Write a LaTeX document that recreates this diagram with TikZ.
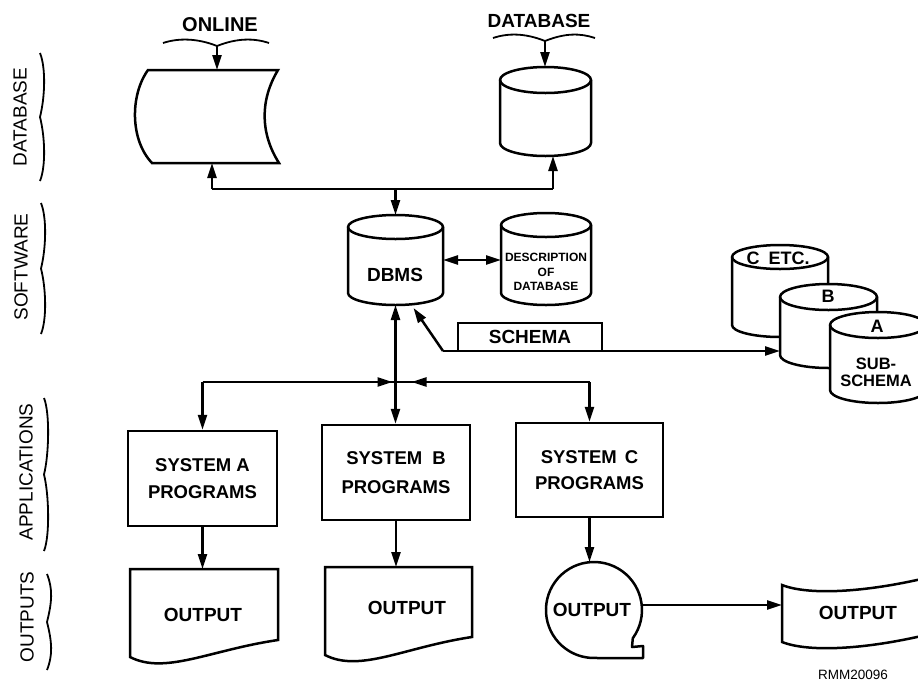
\documentclass[tikz,border=0pt]{standalone}
\usepackage{fontspec}
\setmainfont{Liberation Sans}
\usetikzlibrary{arrows.meta,calc}
\newcommand\dbcyl[5]{%
  \draw[ln,fill=white] ({#1-#4},#2) -- ({#1-#4},#3) arc[start angle=180,end angle=0,x radius=#4,y radius=#5] -- ({#1+#4},#2) arc[start angle=0,end angle=-180,x radius=#4,y radius=#5] -- cycle;
  \draw[ln] ({#1-#4},#2) arc[start angle=180,end angle=0,x radius=#4,y radius=#5];}
\newcommand\vbr[3]{%
  \pgfmathsetmacro\bym{(#2+#3)/2}%
  \draw[brl] (#1,#2) .. controls ({#1+6},{#2+15}) and ({#1+5},{\bym-20}) .. (#1,\bym) .. controls ({#1+5},{\bym+20}) and ({#1+6},{#3-15}) .. (#1,#3);}
\newcommand\hbr[4]{%
  \draw[brl] (#2,#1) .. controls ({#2+15},{#1-5}) and ({#4-20},{#1-5}) .. (#4,{#1+3}) .. controls ({#4+20},{#1-5}) and ({#3-15},{#1-5}) .. (#3,#1);}
\begin{document}
\begin{tikzpicture}[x=1pt,y=-1pt,
  shp/.style={draw=none,inner sep=0pt,outer sep=0pt},
  lbl/.style={font=\fontsize{19}{22}\selectfont\bfseries,inner sep=0pt,align=center},
  side/.style={font=\fontsize{19}{22}\selectfont,rotate=90,inner sep=0pt},
  ln/.style={line width=2.5pt},
  brl/.style={line width=1.8pt},
  arr/.style={ln,-{Triangle[length=15pt,width=9pt]}},
  darr/.style={ln,{Triangle[length=15pt,width=9pt]}-{Triangle[length=15pt,width=9pt]}},
  sysbox/.style={draw,ln,lbl,font=\fontsize{18.5}{27}\selectfont\bfseries,minimum width=148pt,minimum height=95pt}]
\useasboundingbox (0,0) rectangle (918,681);
\clip (0,0) rectangle (918,681);

% side labels
\node[side] (lDB) at (20,117) {DATABASE};
\node[side] (lSW) at (21,267) {SOFTWARE};
\node[side] (lAP) at (26,472) {APPLICATIONS};
\node[side] (lOP) at (27,617) {OUTPUTS};
\vbr{40}{53}{181}
\vbr{41}{203}{334}
\vbr{44}{398}{551}
\vbr{47}{574}{670}

% headings
\node[lbl,font=\fontsize{20}{22}\selectfont\bfseries] (tON) at (220,25) {ONLINE};
\node[lbl] (tDB) at (539,21) {DATABASE};
\hbr{43}{163}{269}{217}
\coordinate (onTip) at (217,46);
\hbr{38}{493}{595}{545}
\coordinate (dbTip) at (545,41);

% online storage
\node[shp,minimum width=130pt,minimum height=93pt] (online) at (213,116.5) {};
\draw[ln] (148,70) -- (278,70) .. controls (260,100) and (260,133) .. (279,163) -- (152,163) .. controls (130,140) and (130,95) .. cycle;

% database cylinder
\dbcyl{545.5}{80}{143}{45.5}{13}
\node[shp,minimum width=91pt,minimum height=89pt] (db) at (545.5,111.5) {};

% DBMS
\dbcyl{395.5}{227}{293}{47.5}{12}
\node[shp,minimum width=95pt,minimum height=90pt] (dbms) at (395.5,260) {};
\node[lbl] (tDBMS) at (395,275) {DBMS};

% description
\dbcyl{546}{225}{293}{45}{12}
\node[shp,minimum width=90pt,minimum height=92pt] (desc) at (546,259) {};
\node[lbl,font=\fontsize{12}{14.5}\selectfont\bfseries] (tdesc) at (546,272) {DESCRIPTION\\OF\\DATABASE};

% subschemas
\dbcyl{780}{257}{325}{48}{12}
\node[shp,minimum width=96pt,minimum height=80pt] (subC) at (780,285) {};
\dbcyl{828.5}{297}{355}{48.5}{13}
\node[shp,minimum width=97pt,minimum height=84pt] (subB) at (828.5,326) {};
\dbcyl{878}{325}{390}{48}{13}
\node[shp,minimum width=96pt,minimum height=91pt] (subA) at (878,357.5) {};
\node[lbl,font=\fontsize{18}{20}\selectfont\bfseries] (tC) at (778,258) {C\hspace{9pt}ETC.};
\node[lbl,font=\fontsize{18}{20}\selectfont\bfseries] (tB) at (828,296) {B};
\node[lbl,font=\fontsize{18}{20}\selectfont\bfseries] (tA) at (877,326) {A};
\node[lbl,font=\fontsize{16.5}{17}\selectfont\bfseries] (tSub) at (876,372) {SUB-\\SCHEMA};

% bus
\coordinate (busL) at (212,189);
\coordinate (busM) at (395.5,189);
\coordinate (busR) at (553,189);
\draw[ln] (busL) -- (busR);
\draw[arr] (busL) -- (busL |- online.south);
\draw[arr] (busR) -- (busR |- db.south);
\draw[arr] (busM) -- (dbms.north);
\draw[arr] (onTip) -- (onTip |- online.north);
\draw[arr] (dbTip) -- (dbTip |- db.north);

\draw[darr] (dbms.east) -- (dbms.east -| desc.west);

% schema
\node[sysbox,minimum width=144pt,minimum height=28pt,font=\fontsize{19}{22}\selectfont\bfseries] (schema) at (530,337) {SCHEMA};
\coordinate (schc) at (443,351);
\draw[arr] (schc) -- ($(dbms.south)+(18,3)$);
\draw[arr] (schc) -- (schc -| subB.west);

% systems
\node[sysbox,minimum width=149pt] (sysA) at (202.5,478.5) {SYSTEM A\\PROGRAMS};
\node[sysbox,font=\fontsize{18.5}{29}\selectfont\bfseries] (sysB) at (396,472.5) {SYSTEM\hspace{10pt}B\\PROGRAMS};
\node[sysbox,minimum width=147pt,minimum height=94pt,font=\fontsize{18.5}{26}\selectfont\bfseries] (sysC) at (589.5,470) {SYSTEM\hspace{8pt}C\\PROGRAMS};

% junction
\coordinate (jn) at (395.5,382);
\coordinate (cA) at (sysA.north |- jn);
\coordinate (cC) at (sysC.north |- jn);
\draw[darr] (dbms.south) -- (dbms.south |- sysB.north);
\draw[ln] (cA) -- (cC);
\draw[arr] (cA) -- ($(jn)+(-3,0)$);
\draw[arr] (cC) -- ($(jn)+(16,0)$);
\draw[arr] (cA) -- (sysA.north);
\draw[arr] (cC) -- (sysC.north);

% outputs
\node[shp,minimum width=148pt,minimum height=96pt] (outA) at (204,617) {};
\draw[ln] (130,569) -- (278,569) -- (278,640) .. controls (210,650) and (165,675) .. (130,657) -- cycle;
\node[lbl] (tOA) at (203,615) {OUTPUT};
\draw[arr] (sysA.south) -- (sysA.south |- outA.north);

\node[shp,minimum width=147pt,minimum height=88pt] (outB) at (398.5,611) {};
\draw[ln] (325,567) -- (472,567) -- (472,637) .. controls (405,647) and (360,673) .. (325,655) -- cycle;
\node[lbl] (tOB) at (407,608) {OUTPUT};
\draw[arr] (sysB.south) -- (sysB.south |- outB.north);

\node[shp,circle,minimum size=96pt] (outC) at (594,610) {};
\draw[ln,line join=round] (632.8,638.2) arc[start angle=36,end angle=-270,radius=48] -- (643,658) -- (643,646) -- (632,647) -- cycle;
\node[lbl] (tOC) at (592,610) {OUTPUT};
\draw[arr] (sysC.south) -- (sysC.south |- outC.north);

\node[shp,minimum width=152pt,minimum height=60pt] (tape) at (858,613) {};
\draw[ln] (934,576) .. controls (870,592) and (810,596) .. (782,585) -- (782,642) .. controls (810,653) and (870,649) .. (934,633);
\node[lbl] (tOD) at (858,613) {OUTPUT};
\coordinate (oc) at ($(outC.east)+(0,-5)$);
\draw[arr] (oc) -- (oc -| tape.west);

\node[font=\fontsize{13.5}{16}\selectfont,inner sep=0pt] (rmm) at (853,675) {RMM20096};
\end{tikzpicture}
\end{document}
